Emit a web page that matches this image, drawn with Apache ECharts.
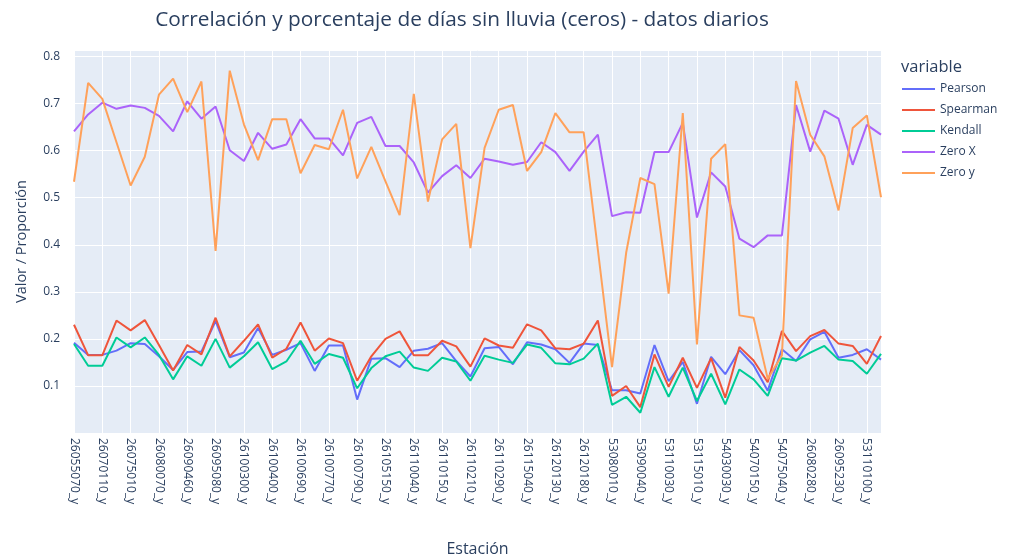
<!DOCTYPE html>
<html>
<head>
<meta charset="utf-8">
<script src="https://cdn.jsdelivr.net/npm/echarts@6/dist/echarts.min.js"></script>
<style>
  html, body { margin: 0; padding: 0; background: #fff; }
  #chart { width: 1010px; height: 556px; }
</style>
</head>
<body>
<div id="chart"></div>
<script>
// labelled stations (every other category is shown on the axis)
var shownStations = ['26055070_y', '26070110_y', '26075010_y', '26080070_y', '26090460_y', '26095080_y',
  '26100300_y', '26100400_y', '26100690_y', '26100770_y', '26100790_y', '26105150_y', '26110040_y',
  '26110150_y', '26110210_y', '26110290_y', '26115040_y', '26120130_y', '26120180_y', '53080010_y',
  '53090040_y', '53110030_y', '53115010_y', '54030030_y', '54070150_y', '54075040_y', '26080280_y',
  '26095230_y', '53110100_y'];

var pearson = [0.192, 0.166, 0.166, 0.175, 0.191, 0.189, 0.163, 0.134, 0.172, 0.173, 0.238, 0.161, 0.171, 0.223,
  0.166, 0.177, 0.191, 0.132, 0.186, 0.186, 0.071, 0.158, 0.159, 0.140, 0.175, 0.179, 0.191, 0.153,
  0.120, 0.180, 0.183, 0.146, 0.193, 0.188, 0.178, 0.149, 0.190, 0.187, 0.091, 0.091, 0.084, 0.187,
  0.110, 0.151, 0.062, 0.162, 0.125, 0.176, 0.144, 0.090, 0.178, 0.153, 0.199, 0.215, 0.160, 0.166,
  0.178, 0.156];
var spearman = [0.230, 0.165, 0.165, 0.239, 0.218, 0.240, 0.187, 0.133, 0.187, 0.167, 0.245, 0.163, 0.196, 0.231,
  0.160, 0.179, 0.235, 0.175, 0.201, 0.191, 0.111, 0.163, 0.200, 0.216, 0.165, 0.165, 0.196, 0.184,
  0.141, 0.201, 0.186, 0.181, 0.231, 0.218, 0.180, 0.178, 0.190, 0.239, 0.079, 0.100, 0.055, 0.167,
  0.098, 0.160, 0.096, 0.159, 0.075, 0.183, 0.154, 0.108, 0.217, 0.174, 0.206, 0.219, 0.190, 0.185,
  0.147, 0.206];
var kendall = [0.189, 0.143, 0.143, 0.203, 0.182, 0.203, 0.166, 0.114, 0.163, 0.143, 0.200, 0.139, 0.163, 0.193,
  0.136, 0.152, 0.196, 0.147, 0.168, 0.160, 0.095, 0.138, 0.163, 0.173, 0.139, 0.132, 0.160, 0.152,
  0.111, 0.164, 0.156, 0.149, 0.188, 0.181, 0.148, 0.146, 0.158, 0.190, 0.060, 0.077, 0.043, 0.140,
  0.077, 0.139, 0.068, 0.126, 0.061, 0.135, 0.114, 0.079, 0.159, 0.154, 0.171, 0.185, 0.156, 0.153,
  0.126, 0.168];
var zeroX = [0.641, 0.677, 0.702, 0.689, 0.696, 0.691, 0.674, 0.641, 0.705, 0.668, 0.694, 0.601, 0.578, 0.638,
  0.604, 0.613, 0.667, 0.626, 0.626, 0.590, 0.659, 0.672, 0.610, 0.610, 0.575, 0.511, 0.546, 0.569,
  0.542, 0.583, 0.577, 0.570, 0.576, 0.618, 0.597, 0.557, 0.598, 0.634, 0.461, 0.469, 0.468, 0.597,
  0.597, 0.659, 0.458, 0.554, 0.524, 0.413, 0.395, 0.420, 0.420, 0.697, 0.598, 0.685, 0.668, 0.570,
  0.655, 0.634];
var zeroY = [0.534, 0.744, 0.710, 0.618, 0.526, 0.587, 0.719, 0.753, 0.682, 0.747, 0.387, 0.770, 0.656, 0.580,
  0.667, 0.667, 0.552, 0.612, 0.603, 0.687, 0.541, 0.608, 0.535, 0.463, 0.721, 0.492, 0.624, 0.657,
  0.393, 0.606, 0.687, 0.697, 0.557, 0.597, 0.680, 0.639, 0.639, 0.390, 0.140, 0.383, 0.542, 0.529,
  0.296, 0.680, 0.188, 0.583, 0.614, 0.250, 0.245, 0.115, 0.165, 0.748, 0.634, 0.588, 0.473, 0.648,
  0.675, 0.501];

// the odd categories have no visible label in the picture
var categories = [];
for (var i = 0; i < pearson.length; i++) {
  categories.push(i % 2 === 0 ? shownStations[i / 2] : 'sin_etiqueta_' + i);
}

var txt = '#2a3f5f';
var font = '"Open Sans", "Noto Sans", sans-serif';

function line(name, data, color) {
  return {
    name: name,
    type: 'line',
    data: data,
    symbol: 'none',
    smooth: false,
    lineStyle: { width: 2, color: color },
    itemStyle: { color: color }
  };
}

var chart = echarts.init(document.getElementById('chart'), null, { renderer: 'canvas' });
chart.setOption({
  backgroundColor: '#fff',
  animation: false,
  textStyle: { fontFamily: font },
  title: [{
    text: 'Correlación y porcentaje de días sin lluvia (ceros) - datos diarios',
    left: 457,
    top: 5,
    textAlign: 'center',
    textStyle: { fontFamily: font, fontSize: 20.8, fontWeight: 'normal', color: txt }
  }, {
    text: 'variable',
    left: 896,
    top: 54,
    textStyle: { fontFamily: font, fontSize: 16.5, fontWeight: 'normal', color: txt }
  }],
  legend: {
    orient: 'vertical',
    left: 897,
    top: 77,
    icon: 'rect',
    itemWidth: 33,
    itemHeight: 2,
    itemGap: 7,
    textStyle: { fontFamily: font, fontSize: 12, lineHeight: 14, color: txt },
    data: ['Pearson', 'Spearman', 'Kendall', 'Zero X', 'Zero y']
  },
  // keep the plot box fixed; labels and names sit outside it as in the picture
  grid: { left: 74, right: 129, top: 50, bottom: 123, containLabel: false, outerBoundsMode: 'none',
    show: true, backgroundColor: '#E5ECF6', borderWidth: 0 },
  xAxis: {
    type: 'category',
    data: categories,
    boundaryGap: false,
    name: 'Estación',
    nameLocation: 'middle',
    nameGap: 108,
    nameTextStyle: { fontFamily: font, fontSize: 16, color: txt },
    axisLine: { show: false },
    axisTick: { show: false },
    axisLabel: { interval: 1, rotate: -90, margin: 5, fontSize: 12, color: txt, fontFamily: font },
    splitLine: { show: true, interval: 1, lineStyle: { color: '#fff', width: 1 } }
  },
  yAxis: {
    type: 'value',
    min: 0,
    max: 0.814,
    interval: 0.1,
    name: 'Valor / Proporción',
    nameLocation: 'middle',
    nameGap: 45,
    nameTextStyle: { fontFamily: font, fontSize: 14.5, color: txt },
    axisLine: { show: false },
    axisTick: { show: false },
    axisLabel: {
      margin: 14, fontSize: 12, color: txt, fontFamily: font,
      formatter: function (v) {
        var k = Math.round(v * 10);
        if (k === 0 || Math.abs(v * 10 - k) > 1e-6) return '';
        return (k / 10).toFixed(1);
      }
    },
    splitLine: { show: true, lineStyle: { color: '#fff', width: 1 } }
  },
  series: [
    line('Pearson', pearson, '#636EFA'),
    line('Spearman', spearman, '#EF553B'),
    line('Kendall', kendall, '#00CC96'),
    line('Zero X', zeroX, '#AB63FA'),
    line('Zero y', zeroY, '#FFA15A')
  ]
});
</script>
</body>
</html>
